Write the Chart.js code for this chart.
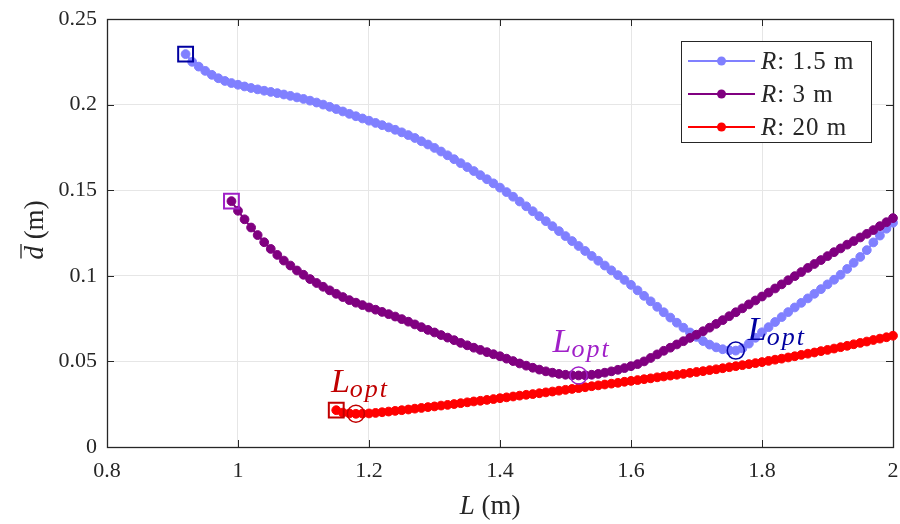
<!DOCTYPE html>
<html>
<head>
<meta charset="utf-8">
<script src="https://cdn.jsdelivr.net/npm/chart.js@4.4.1/dist/chart.umd.min.js"></script>
<style>
  html, body { margin: 0; padding: 0; background: #fff; }
  #wrap { width: 900px; height: 524px; }
</style>
</head>
<body>
<div id="wrap"><canvas id="chart" width="900" height="524"></canvas></div>
<script>
// rod length L (m), shared sampling of all three curves
const lengthGrid = [
    0.92, 0.93, 0.94, 0.95, 0.96, 0.97, 0.98, 0.99,
    1.00, 1.01, 1.02, 1.03, 1.04, 1.05, 1.06, 1.07, 1.08, 1.09,
    1.10, 1.11, 1.12, 1.13, 1.14, 1.15, 1.16, 1.17, 1.18, 1.19,
    1.20, 1.21, 1.22, 1.23, 1.24, 1.25, 1.26, 1.27, 1.28, 1.29,
    1.30, 1.31, 1.32, 1.33, 1.34, 1.35, 1.36, 1.37, 1.38, 1.39,
    1.40, 1.41, 1.42, 1.43, 1.44, 1.45, 1.46, 1.47, 1.48, 1.49,
    1.50, 1.51, 1.52, 1.53, 1.54, 1.55, 1.56, 1.57, 1.58, 1.59,
    1.60, 1.61, 1.62, 1.63, 1.64, 1.65, 1.66, 1.67, 1.68, 1.69,
    1.70, 1.71, 1.72, 1.73, 1.74, 1.75, 1.76, 1.77, 1.78, 1.79,
    1.80, 1.81, 1.82, 1.83, 1.84, 1.85, 1.86, 1.87, 1.88, 1.89,
    1.90, 1.91, 1.92, 1.93, 1.94, 1.95, 1.96, 1.97, 1.98, 1.99,
    2.00
];

const radiusLabels = ['1.5 m', '3 m', '20 m'];

// mean deviation d (m), each series ends at L = 2
const dR15 = [
    0.2295, 0.2250, 0.2222, 0.2197, 0.2174, 0.2154, 0.2138, 0.2126,
    0.2116, 0.2106, 0.2097, 0.2089, 0.2081, 0.2074, 0.2067, 0.2059, 0.2051, 0.2042,
    0.2033, 0.2023, 0.2012, 0.2000, 0.1987, 0.1974, 0.1960, 0.1946, 0.1932, 0.1919,
    0.1906, 0.1893, 0.1880, 0.1867, 0.1853, 0.1838, 0.1822, 0.1805, 0.1786, 0.1767,
    0.1747, 0.1726, 0.1704, 0.1681, 0.1658, 0.1635, 0.1612, 0.1588, 0.1564, 0.1540,
    0.1515, 0.1489, 0.1462, 0.1434, 0.1406, 0.1377, 0.1348, 0.1319, 0.1290, 0.1261,
    0.1232, 0.1203, 0.1174, 0.1145, 0.1116, 0.1088, 0.1060, 0.1032, 0.1004, 0.0976,
    0.0947, 0.0915, 0.0883, 0.0851, 0.0819, 0.0787, 0.0756, 0.0726, 0.0697, 0.0669,
    0.0643, 0.0619, 0.0598, 0.0582, 0.0571, 0.0565, 0.0563, 0.0576, 0.0604, 0.0638,
    0.0670, 0.0700, 0.0730, 0.0759, 0.0788, 0.0815, 0.0842, 0.0868, 0.0895, 0.0922,
    0.0950, 0.0977, 0.1006, 0.1040, 0.1076, 0.1110, 0.1150, 0.1195, 0.1235, 0.1275,
    0.1310
];
const dR3 = [
    0.1436,
    0.1380, 0.1330, 0.1282, 0.1238, 0.1196, 0.1157, 0.1122, 0.1089, 0.1060, 0.1031,
    0.1006, 0.0981, 0.0958, 0.0936, 0.0915, 0.0895, 0.0876, 0.0858, 0.0843, 0.0829,
    0.0815, 0.0802, 0.0789, 0.0776, 0.0762, 0.0747, 0.0732, 0.0716, 0.0700, 0.0684,
    0.0669, 0.0654, 0.0639, 0.0624, 0.0608, 0.0594, 0.0580, 0.0567, 0.0554, 0.0542,
    0.0530, 0.0516, 0.0502, 0.0488, 0.0475, 0.0463, 0.0452, 0.0442, 0.0434, 0.0427,
    0.0422, 0.0419, 0.0418, 0.0419, 0.0422, 0.0427, 0.0434, 0.0442, 0.0451, 0.0461,
    0.0472, 0.0484, 0.0500, 0.0520, 0.0541, 0.0562, 0.0580, 0.0599, 0.0618, 0.0637,
    0.0656, 0.0676, 0.0697, 0.0719, 0.0741, 0.0764, 0.0787, 0.0810, 0.0833, 0.0856,
    0.0879, 0.0902, 0.0926, 0.0950, 0.0974, 0.0998, 0.1022, 0.1046, 0.1069, 0.1092,
    0.1115, 0.1138, 0.1160, 0.1182, 0.1203, 0.1224, 0.1245, 0.1267, 0.1290, 0.1313,
    0.1337
];
const dR20 = [
    0.0215, 0.0201, 0.0196, 0.0194, 0.0195,
    0.0196, 0.0199, 0.0203, 0.0207, 0.0211, 0.0215, 0.0219, 0.0224, 0.0228, 0.0233,
    0.0237, 0.0242, 0.0246, 0.0251, 0.0256, 0.0261, 0.0266, 0.0270, 0.0275, 0.0280,
    0.0285, 0.0290, 0.0295, 0.0300, 0.0305, 0.0309, 0.0314, 0.0319, 0.0324, 0.0329,
    0.0334, 0.0339, 0.0344, 0.0349, 0.0355, 0.0360, 0.0365, 0.0370, 0.0375, 0.0381,
    0.0386, 0.0391, 0.0396, 0.0401, 0.0407, 0.0412, 0.0417, 0.0422, 0.0427, 0.0433,
    0.0438, 0.0443, 0.0449, 0.0454, 0.0460, 0.0466, 0.0472, 0.0478, 0.0484, 0.0490,
    0.0496, 0.0503, 0.0510, 0.0516, 0.0523, 0.0530, 0.0538, 0.0545, 0.0552, 0.0560,
    0.0567, 0.0575, 0.0583, 0.0591, 0.0600, 0.0608, 0.0616, 0.0625, 0.0633, 0.0641,
    0.0650
];

// first sample (square) and optimum (circle) of each series
const startL = [0.92, 0.99, 1.15];
const startD = [0.2295, 0.1436, 0.0215];
const optL = [1.76, 1.52, 1.18];
const optD = [0.0563, 0.0418, 0.0194];

const xTicks = [0.8, 1, 1.2, 1.4, 1.6, 1.8, 2];
const yTicks = [0, 0.05, 0.1, 0.15, 0.2, 0.25];

const lineColors = ['#8080ff', '#800080', '#ff0000'];
const markColors = ['#0000a0', '#a020c8', '#c00000'];
const SERIF = '"Liberation Serif", "Times New Roman", serif';
const AXIS = '#262626';

function toPoints(values) {
    const offset = lengthGrid.length - values.length;
    return values.map((d, i) => ({ x: lengthGrid[offset + i], y: d }));
}

const series = [dR15, dR3, dR20];
const datasets = [];

series.forEach((values, i) => {
    datasets.push({
        label: radiusLabels[i],
        data: toPoints(values),
        borderColor: lineColors[i],
        backgroundColor: lineColors[i],
        borderWidth: 2,
        pointRadius: 4.4,
        pointBorderWidth: 1,
        pointHoverRadius: 4.4,
        pointBorderColor: lineColors[i],
        pointBackgroundColor: lineColors[i],
        clip: false,
        order: 10 - i
    });
});

series.forEach((values, i) => {
    datasets.push({
        label: 'start ' + radiusLabels[i],
        data: [{ x: startL[i], y: startD[i] }],
        showLine: false,
        pointStyle: 'rect',
        pointRadius: 10.5,
        pointHoverRadius: 10.5,
        pointBorderWidth: 2,
        pointBorderColor: markColors[i],
        pointBackgroundColor: 'rgba(0,0,0,0)',
        clip: false,
        order: 1
    });
    datasets.push({
        label: 'opt ' + radiusLabels[i],
        data: [{ x: optL[i], y: optD[i] }],
        showLine: false,
        pointStyle: 'circle',
        pointRadius: 8.5,
        pointHoverRadius: 8.5,
        pointBorderWidth: 1.5,
        pointBorderColor: markColors[i],
        pointBackgroundColor: 'rgba(0,0,0,0)',
        clip: false,
        order: 1
    });
});

// offsets of the L_opt text from its circle, per series
const optLabelShift = [[12, -11], [-26, -23], [-25, -22]];

function drawLopt(ctx, x, y, color) {
    ctx.fillStyle = color;
    ctx.textAlign = 'left';
    ctx.textBaseline = 'alphabetic';
    ctx.font = 'italic 34px ' + SERIF;
    ctx.fillText('L', x, y);
    const w = ctx.measureText('L').width;
    ctx.font = 'italic 26px ' + SERIF;
    ctx.letterSpacing = '2px';
    ctx.fillText('opt', x + w, y + 5);
    ctx.letterSpacing = '0px';
}

const framePlugin = {
    id: 'frame',
    beforeDatasetsDraw(chart) {
        const { ctx, chartArea: a, scales } = chart;
        ctx.save();
        ctx.strokeStyle = AXIS;
        ctx.lineWidth = 1;
        ctx.beginPath();
        xTicks.forEach(v => {
            const px = Math.round(scales.x.getPixelForValue(v)) + 0.5;
            ctx.moveTo(px, a.bottom); ctx.lineTo(px, a.bottom - 7);
            ctx.moveTo(px, a.top); ctx.lineTo(px, a.top + 7);
        });
        yTicks.forEach(v => {
            const py = Math.round(scales.y.getPixelForValue(v)) + 0.5;
            ctx.moveTo(a.left, py); ctx.lineTo(a.left + 7, py);
            ctx.moveTo(a.right, py); ctx.lineTo(a.right - 7, py);
        });
        ctx.stroke();
        ctx.lineWidth = 1.3;
        ctx.strokeRect(a.left + 0.5, a.top + 0.5, a.right - a.left, a.bottom - a.top);
        ctx.restore();
    },
    afterDraw(chart) {
        const { ctx, scales } = chart;
        ctx.save();

        // L_opt annotations
        optL.forEach((l, i) => {
            const cx = scales.x.getPixelForValue(l);
            const cy = scales.y.getPixelForValue(optD[i]);
            drawLopt(ctx, cx + optLabelShift[i][0], cy + optLabelShift[i][1], markColors[i]);
        });

        // x axis title: L (m)
        ctx.fillStyle = AXIS;
        ctx.textBaseline = 'alphabetic';
        ctx.font = 'italic 27px ' + SERIF;
        const wL = ctx.measureText('L ').width;
        ctx.font = '27px ' + SERIF;
        const wM = ctx.measureText('(m)').width;
        const x0 = 490 - (wL + wM) / 2;
        ctx.font = 'italic 27px ' + SERIF;
        ctx.fillText('L', x0, 514);
        ctx.font = '27px ' + SERIF;
        ctx.fillText('(m)', x0 + wL, 514);

        // y axis title: d-bar (m), rotated
        ctx.save();
        ctx.translate(43, 230);
        ctx.rotate(-Math.PI / 2);
        ctx.font = 'italic 27px ' + SERIF;
        const wd = ctx.measureText('d').width;
        const wsp = ctx.measureText(' ').width;
        ctx.font = '27px ' + SERIF;
        const wm2 = ctx.measureText('(m)').width;
        const y0 = -(wd + wsp + wm2) / 2;
        ctx.font = 'italic 27px ' + SERIF;
        ctx.fillText('d', y0, 0);
        ctx.strokeStyle = AXIS;
        ctx.lineWidth = 1.3;
        ctx.beginPath();
        ctx.moveTo(y0 + 1, -22);
        ctx.lineTo(y0 + wd + 2, -22);
        ctx.stroke();
        ctx.font = '27px ' + SERIF;
        ctx.fillText('(m)', y0 + wd + wsp, 0);
        ctx.restore();

        // legend
        const lx = 681.5, ly = 41.5, lw = 190, lh = 101;
        ctx.fillStyle = '#fff';
        ctx.fillRect(lx, ly, lw, lh);
        ctx.strokeStyle = AXIS;
        ctx.lineWidth = 1;
        ctx.strokeRect(lx, ly, lw, lh);
        radiusLabels.forEach((lab, i) => {
            const ry = 61 + i * 33;
            ctx.strokeStyle = lineColors[i];
            ctx.lineWidth = 2;
            ctx.beginPath();
            ctx.moveTo(688, ry); ctx.lineTo(755, ry);
            ctx.stroke();
            ctx.fillStyle = lineColors[i];
            ctx.beginPath();
            ctx.arc(721.5, ry, 4.5, 0, Math.PI * 2);
            ctx.fill();
            ctx.fillStyle = AXIS;
            ctx.font = 'italic 25px ' + SERIF;
            ctx.fillText('R', 761, ry + 8);
            const wr = ctx.measureText('R').width;
            ctx.font = '25px ' + SERIF;
            ctx.letterSpacing = '1px';
            ctx.fillText(': ' + lab, 761 + wr + 1, ry + 8);
            ctx.letterSpacing = '0px';
        });
        ctx.restore();
    }
};

new Chart(document.getElementById('chart'), {
    type: 'line',
    data: { datasets: datasets },
    options: {
        responsive: false,
        animation: false,
        devicePixelRatio: 1,
        layout: { autoPadding: false, padding: { left: 0, right: 7, top: 19, bottom: 0 } },
        plugins: {
            legend: { display: false },
            tooltip: { enabled: false }
        },
        scales: {
            x: {
                type: 'linear',
                min: 0.8,
                max: 2,
                afterBuildTicks: s => { s.ticks = xTicks.map(v => ({ value: v })); },
                afterFit: s => {
                    s.height = 77;
                    s.paddingLeft = 0;
                    s.paddingRight = 0;
                },
                ticks: {
                    color: AXIS,
                    font: { family: SERIF, size: 22 },
                    padding: 11,
                    maxRotation: 0,
                    callback: v => String(+v.toFixed(1))
                },
                grid: { color: '#e6e6e6', lineWidth: 1, drawTicks: false },
                border: { display: false }
            },
            y: {
                type: 'linear',
                min: 0,
                max: 0.25,
                afterBuildTicks: s => { s.ticks = yTicks.map(v => ({ value: v })); },
                afterFit: s => {
                    s.width = 107;
                    s.paddingTop = 0;
                    s.paddingBottom = 0;
                },
                ticks: {
                    color: AXIS,
                    font: { family: SERIF, size: 22 },
                    padding: 10,
                    callback: v => String(+v.toFixed(2))
                },
                grid: { color: '#e6e6e6', lineWidth: 1, drawTicks: false },
                border: { display: false }
            }
        }
    },
    plugins: [framePlugin]
});
</script>
</body>
</html>
